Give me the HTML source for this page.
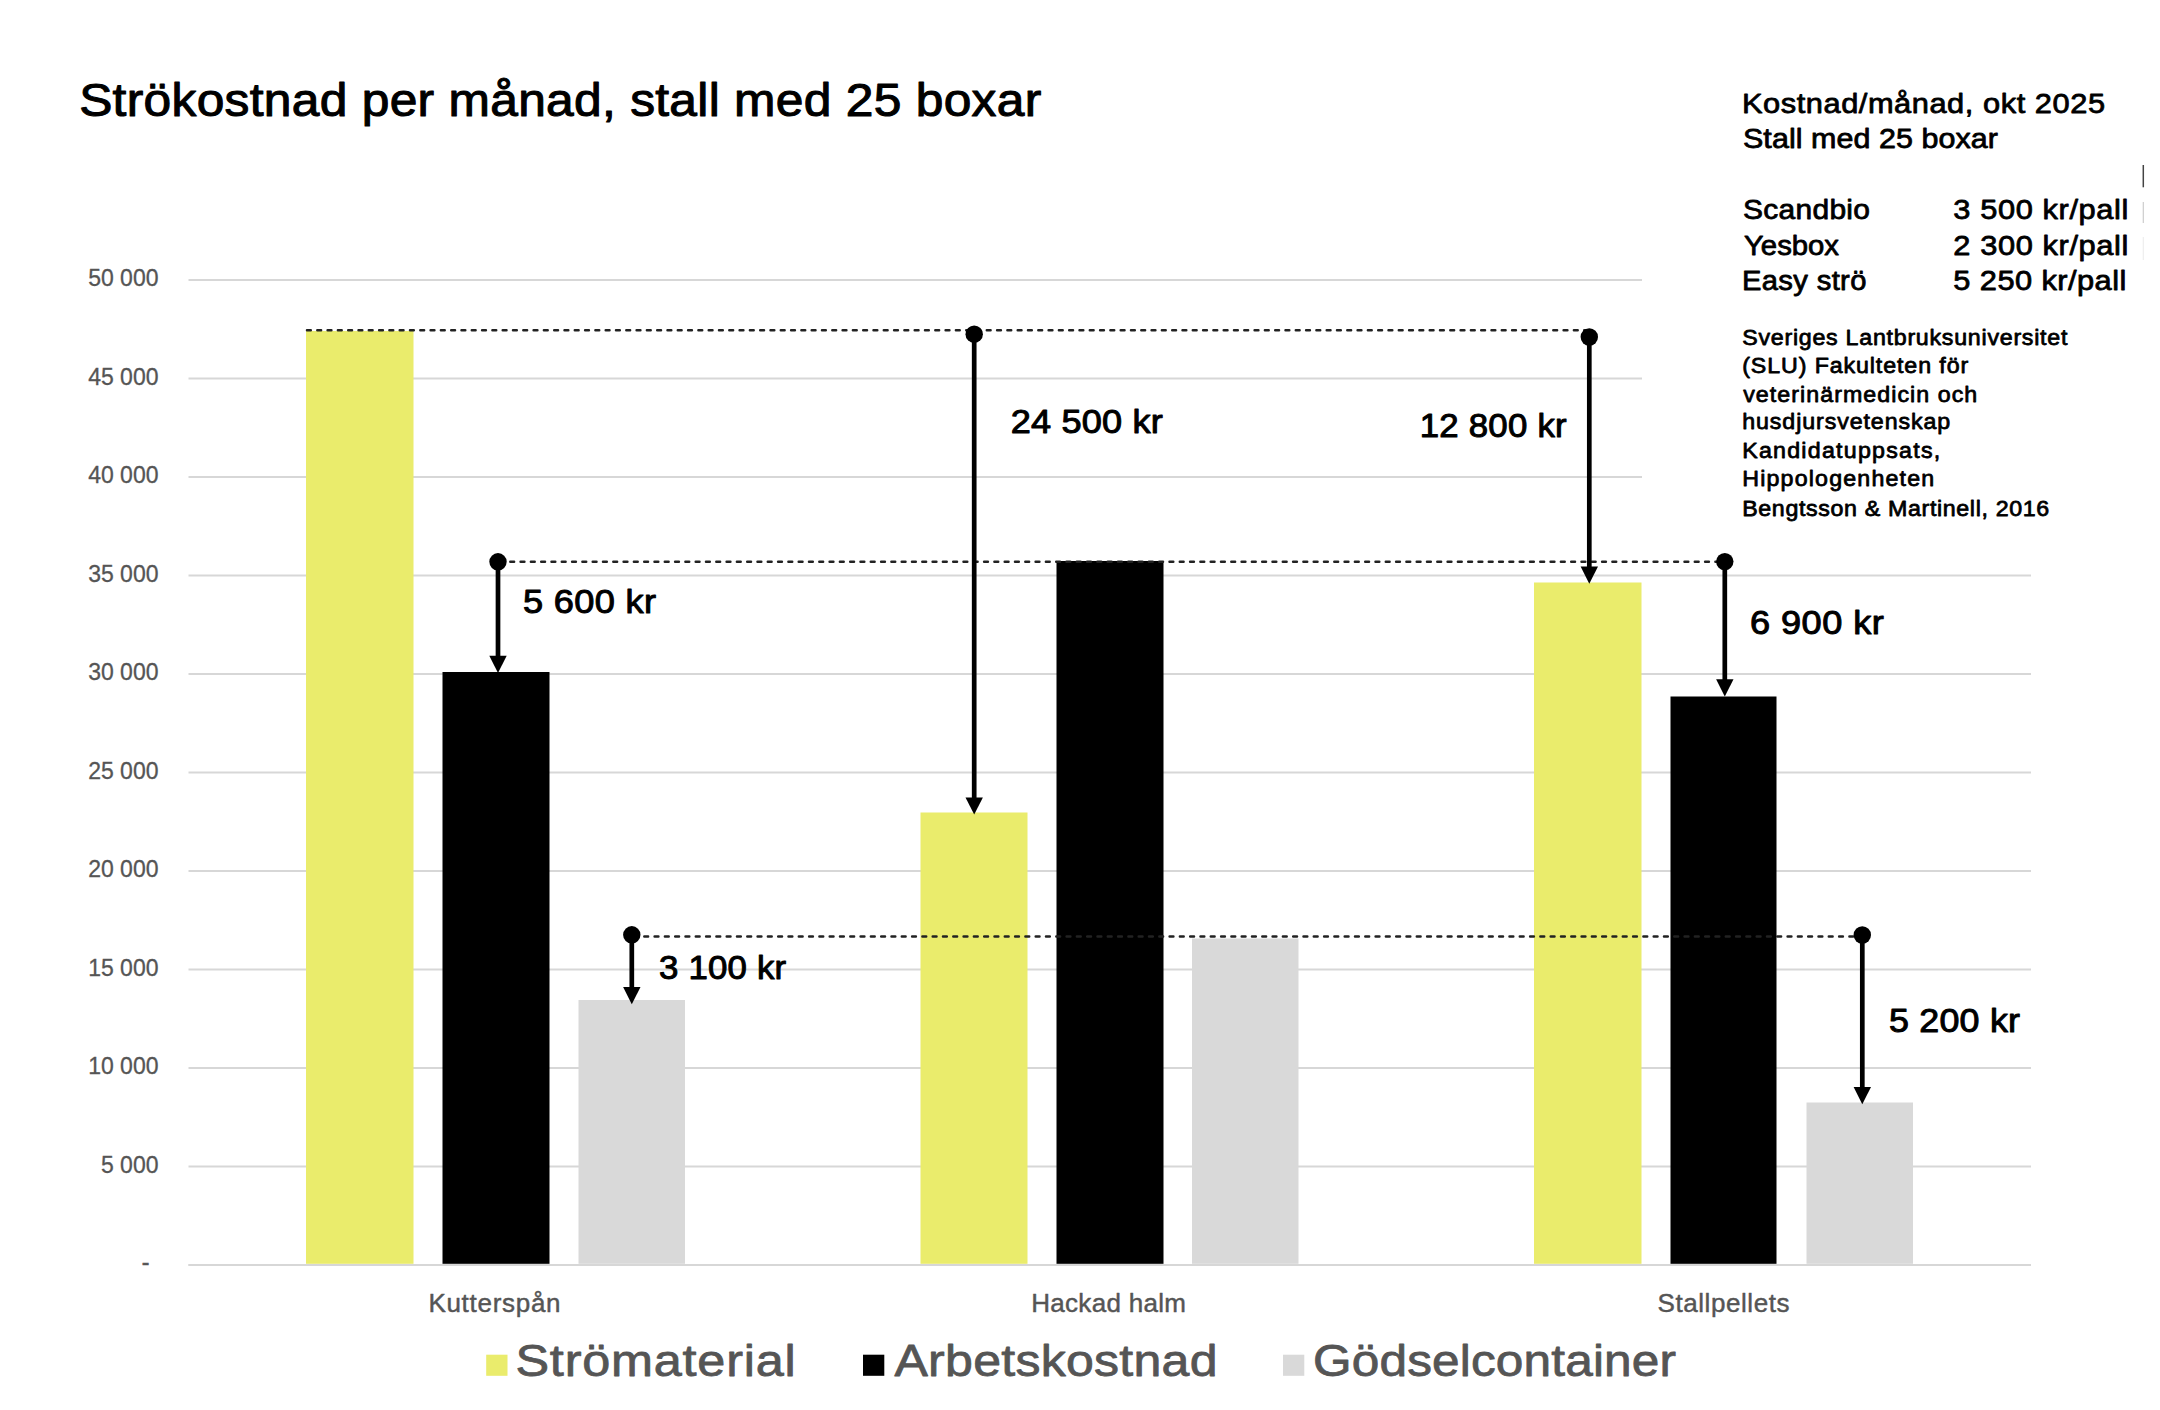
<!DOCTYPE html>
<html lang="sv"><head><meta charset="utf-8"><title>Strökostnad per månad</title>
<style>
html,body{margin:0;padding:0;background:#fff;}
body{width:2160px;height:1410px;overflow:hidden;}
svg{display:block;}
text{font-family:"Liberation Sans",sans-serif;}
.g{fill:#555555;}
</style></head><body>
<svg width="2160" height="1410" viewBox="0 0 2160 1410">
<rect width="2160" height="1410" fill="#fff"/>

<line x1="188.5" x2="2031" y1="1265.0" y2="1265.0" stroke="#d7d7d7" stroke-width="2.2"/>
<line x1="188.5" x2="2031" y1="1166.5" y2="1166.5" stroke="#d7d7d7" stroke-width="2.2"/>
<line x1="188.5" x2="2031" y1="1068.0" y2="1068.0" stroke="#d7d7d7" stroke-width="2.2"/>
<line x1="188.5" x2="2031" y1="969.5" y2="969.5" stroke="#d7d7d7" stroke-width="2.2"/>
<line x1="188.5" x2="2031" y1="871.0" y2="871.0" stroke="#d7d7d7" stroke-width="2.2"/>
<line x1="188.5" x2="2031" y1="772.5" y2="772.5" stroke="#d7d7d7" stroke-width="2.2"/>
<line x1="188.5" x2="2031" y1="674.0" y2="674.0" stroke="#d7d7d7" stroke-width="2.2"/>
<line x1="188.5" x2="2031" y1="575.5" y2="575.5" stroke="#d7d7d7" stroke-width="2.2"/>
<line x1="188.5" x2="1642" y1="477.0" y2="477.0" stroke="#d7d7d7" stroke-width="2.2"/>
<line x1="188.5" x2="1642" y1="378.5" y2="378.5" stroke="#d7d7d7" stroke-width="2.2"/>
<line x1="188.5" x2="1642" y1="280.0" y2="280.0" stroke="#d7d7d7" stroke-width="2.2"/>
<text class="g" x="158.5" y="1172.7" font-size="23" text-anchor="end" stroke="#555555" stroke-width="0.3">5 000</text>
<text class="g" x="158.5" y="1074.2" font-size="23" text-anchor="end" stroke="#555555" stroke-width="0.3">10 000</text>
<text class="g" x="158.5" y="975.7" font-size="23" text-anchor="end" stroke="#555555" stroke-width="0.3">15 000</text>
<text class="g" x="158.5" y="877.2" font-size="23" text-anchor="end" stroke="#555555" stroke-width="0.3">20 000</text>
<text class="g" x="158.5" y="778.7" font-size="23" text-anchor="end" stroke="#555555" stroke-width="0.3">25 000</text>
<text class="g" x="158.5" y="680.2" font-size="23" text-anchor="end" stroke="#555555" stroke-width="0.3">30 000</text>
<text class="g" x="158.5" y="581.7" font-size="23" text-anchor="end" stroke="#555555" stroke-width="0.3">35 000</text>
<text class="g" x="158.5" y="483.2" font-size="23" text-anchor="end" stroke="#555555" stroke-width="0.3">40 000</text>
<text class="g" x="158.5" y="384.7" font-size="23" text-anchor="end" stroke="#555555" stroke-width="0.3">45 000</text>
<text class="g" x="158.5" y="286.2" font-size="23" text-anchor="end" stroke="#555555" stroke-width="0.3">50 000</text>
<text class="g" x="149.3" y="1270.2" font-size="23" text-anchor="end" stroke="#555555" stroke-width="0.5">-</text>
<rect x="306" y="331" width="107.5" height="932.8" fill="#eaec6c"/>
<rect x="442.5" y="672" width="107.0" height="591.8" fill="#000"/>
<rect x="578.5" y="1000" width="106.5" height="263.79999999999995" fill="#d9d9d9"/>
<rect x="920.5" y="812.5" width="107.0" height="451.29999999999995" fill="#eaec6c"/>
<rect x="1056.5" y="561" width="107.0" height="702.8" fill="#000"/>
<rect x="1192" y="938.5" width="106.5" height="325.29999999999995" fill="#d9d9d9"/>
<rect x="1534" y="582.5" width="107.5" height="681.3" fill="#eaec6c"/>
<rect x="1670.5" y="696.5" width="106.0" height="567.3" fill="#000"/>
<rect x="1806.5" y="1102.5" width="106.5" height="161.29999999999995" fill="#d9d9d9"/>
<line x1="188.5" x2="2031" y1="1265.0" y2="1265.0" stroke="#d7d7d7" stroke-width="2.2"/>
<line x1="307" x2="1588" y1="330.3" y2="330.3" stroke="#222" stroke-width="2.5" stroke-dasharray="3.8 6.5" stroke-linecap="round"/>
<line x1="500" x2="1724" y1="561.8" y2="561.8" stroke="#222" stroke-width="2.5" stroke-dasharray="3.8 6.5" stroke-linecap="round"/>
<line x1="634" x2="1861" y1="936.5" y2="936.5" stroke="#222" stroke-width="2.5" stroke-dasharray="3.8 6.5" stroke-linecap="round"/>
<circle cx="498" cy="561.8" r="8.7" fill="#000"/>
<line x1="498" x2="498" y1="561.8" y2="661" stroke="#000" stroke-width="4.7"/>
<path d="M489.3 655.8L506.7 655.8L498 673Z" fill="#000"/>
<circle cx="974.2" cy="334.2" r="8.7" fill="#000"/>
<line x1="974.2" x2="974.2" y1="334.2" y2="802.6" stroke="#000" stroke-width="4.7"/>
<path d="M965.5 797.4L982.9 797.4L974.2 814.6Z" fill="#000"/>
<circle cx="1589.3" cy="337" r="8.7" fill="#000"/>
<line x1="1589.3" x2="1589.3" y1="337" y2="571.8" stroke="#000" stroke-width="4.7"/>
<path d="M1580.6 566.6L1598.0 566.6L1589.3 583.8Z" fill="#000"/>
<circle cx="1724.8" cy="561.6" r="8.7" fill="#000"/>
<line x1="1724.8" x2="1724.8" y1="561.6" y2="684.5" stroke="#000" stroke-width="4.7"/>
<path d="M1716.1 679.3L1733.5 679.3L1724.8 696.5Z" fill="#000"/>
<circle cx="631.8" cy="934.8" r="8.7" fill="#000"/>
<line x1="631.8" x2="631.8" y1="934.8" y2="992.2" stroke="#000" stroke-width="4.7"/>
<path d="M623.1 987.0L640.5 987.0L631.8 1004.2Z" fill="#000"/>
<circle cx="1862.3" cy="935" r="8.7" fill="#000"/>
<line x1="1862.3" x2="1862.3" y1="935" y2="1092.2" stroke="#000" stroke-width="4.7"/>
<path d="M1853.6 1087.0L1871.0 1087.0L1862.3 1104.2Z" fill="#000"/>
<text transform="translate(79.20 115.50) scale(1.0800 1)" font-size="46" fill="#000" stroke="#000" stroke-width="1.05" stroke-linejoin="round" textLength="890.74" lengthAdjust="spacing">Strökostnad per månad, stall med 25 boxar</text>
<text transform="translate(523.00 613.30) scale(1.0800 1)" font-size="33.5" fill="#000" stroke="#000" stroke-width="1.0" stroke-linejoin="round" textLength="123.15" lengthAdjust="spacing">5 600 kr</text>
<text transform="translate(1010.70 433.40) scale(1.0796 1)" font-size="33.5" fill="#000" stroke="#000" stroke-width="1.0" stroke-linejoin="round" textLength="140.98" lengthAdjust="spacing">24 500 kr</text>
<text transform="translate(1419.70 437.00) scale(1.0380 1)" font-size="33.5" fill="#000" stroke="#000" stroke-width="1.0" stroke-linejoin="round" textLength="141.61" lengthAdjust="spacing">12 800 kr</text>
<text transform="translate(1750.00 633.70) scale(1.0800 1)" font-size="33.5" fill="#000" stroke="#000" stroke-width="1.0" stroke-linejoin="round" textLength="123.89" lengthAdjust="spacing">6 900 kr</text>
<text transform="translate(659.00 979.20) scale(1.0393 1)" font-size="33.5" fill="#000" stroke="#000" stroke-width="1.0" stroke-linejoin="round" textLength="122.39" lengthAdjust="spacing">3 100 kr</text>
<text transform="translate(1889.00 1032.20) scale(1.0698 1)" font-size="33.5" fill="#000" stroke="#000" stroke-width="1.0" stroke-linejoin="round" textLength="122.45" lengthAdjust="spacing">5 200 kr</text>
<text transform="translate(1742.00 112.60) scale(1.0800 1)" font-size="28.5" fill="#000" stroke="#000" stroke-width="0.8" stroke-linejoin="round" textLength="336.11" lengthAdjust="spacing">Kostnad/månad, okt 2025</text>
<text transform="translate(1743.00 147.60) scale(1.0688 1)" font-size="28.5" fill="#000" stroke="#000" stroke-width="0.8" stroke-linejoin="round" textLength="238.58" lengthAdjust="spacing">Stall med 25 boxar</text>
<text transform="translate(1743.00 219.30) scale(1.0518 1)" font-size="28.5" fill="#000" stroke="#000" stroke-width="0.8" stroke-linejoin="round" textLength="120.75" lengthAdjust="spacing">Scandbio</text>
<text transform="translate(1953.30 219.30) scale(1.0800 1)" font-size="28.5" fill="#000" stroke="#000" stroke-width="0.8" stroke-linejoin="round" textLength="162.04" lengthAdjust="spacing">3 500 kr/pall</text>
<text transform="translate(1744.00 254.50) scale(1.0275 1)" font-size="28.5" fill="#000" stroke="#000" stroke-width="0.8" stroke-linejoin="round" textLength="92.45" lengthAdjust="spacing">Yesbox</text>
<text transform="translate(1953.30 254.50) scale(1.0800 1)" font-size="28.5" fill="#000" stroke="#000" stroke-width="0.8" stroke-linejoin="round" textLength="162.04" lengthAdjust="spacing">2 300 kr/pall</text>
<text transform="translate(1742.00 289.80) scale(1.0236 1)" font-size="28.5" fill="#000" stroke="#000" stroke-width="0.8" stroke-linejoin="round" textLength="121.53" lengthAdjust="spacing">Easy strö</text>
<text transform="translate(1953.30 289.80) scale(1.0800 1)" font-size="28.5" fill="#000" stroke="#000" stroke-width="0.8" stroke-linejoin="round" textLength="160.19" lengthAdjust="spacing">5 250 kr/pall</text>
<text transform="translate(1742.20 345.30) scale(1.0800 1)" font-size="21.5" fill="#000" stroke="#000" stroke-width="0.75" stroke-linejoin="round" textLength="301.11" lengthAdjust="spacing">Sveriges Lantbruksuniversitet</text>
<text transform="translate(1742.20 373.00) scale(1.0800 1)" font-size="21.5" fill="#000" stroke="#000" stroke-width="0.75" stroke-linejoin="round" textLength="209.26" lengthAdjust="spacing">(SLU) Fakulteten för</text>
<text transform="translate(1743.20 401.60) scale(1.0800 1)" font-size="21.5" fill="#000" stroke="#000" stroke-width="0.75" stroke-linejoin="round" textLength="216.67" lengthAdjust="spacing">veterinärmedicin och</text>
<text transform="translate(1742.20 429.40) scale(1.0800 1)" font-size="21.5" fill="#000" stroke="#000" stroke-width="0.75" stroke-linejoin="round" textLength="192.59" lengthAdjust="spacing">husdjursvetenskap</text>
<text transform="translate(1742.20 457.50) scale(1.0800 1)" font-size="21.5" fill="#000" stroke="#000" stroke-width="0.75" stroke-linejoin="round" textLength="183.33" lengthAdjust="spacing">Kandidatuppsats,</text>
<text transform="translate(1742.20 486.00) scale(1.0800 1)" font-size="21.5" fill="#000" stroke="#000" stroke-width="0.75" stroke-linejoin="round" textLength="177.78" lengthAdjust="spacing">Hippologenheten</text>
<text transform="translate(1742.20 515.60) scale(1.0800 1)" font-size="21.5" fill="#000" stroke="#000" stroke-width="0.75" stroke-linejoin="round" textLength="284.26" lengthAdjust="spacing">Bengtsson &amp; Martinell, 2016</text>
<text transform="translate(428.40 1311.70) scale(1.0000 1)" font-size="26" fill="#555555" stroke="#555555" stroke-width="0.45" stroke-linejoin="round" textLength="132.20" lengthAdjust="spacing">Kutterspån</text>
<text transform="translate(1031.20 1311.70) scale(1.0000 1)" font-size="26" fill="#555555" stroke="#555555" stroke-width="0.45" stroke-linejoin="round" textLength="154.80" lengthAdjust="spacing">Hackad halm</text>
<text transform="translate(1657.50 1311.70) scale(1.0000 1)" font-size="26" fill="#555555" stroke="#555555" stroke-width="0.45" stroke-linejoin="round" textLength="132.00" lengthAdjust="spacing">Stallpellets</text>
<text transform="translate(515.50 1376.30) scale(1.1200 1)" font-size="45" fill="#555555" stroke="#555555" stroke-width="0.8" stroke-linejoin="round" textLength="250.18" lengthAdjust="spacing">Strömaterial</text>
<text transform="translate(894.50 1376.30) scale(1.1124 1)" font-size="45" fill="#555555" stroke="#555555" stroke-width="0.8" stroke-linejoin="round" textLength="290.37" lengthAdjust="spacing">Arbetskostnad</text>
<text transform="translate(1313.00 1376.30) scale(1.1016 1)" font-size="45" fill="#555555" stroke="#555555" stroke-width="0.8" stroke-linejoin="round" textLength="329.52" lengthAdjust="spacing">Gödselcontainer</text>
<line x1="2143.3" x2="2143.3" y1="165" y2="187.3" stroke="#444" stroke-width="1.5"/>
<line x1="2143.3" x2="2143.3" y1="202" y2="223" stroke="#ccc" stroke-width="1.2"/>
<line x1="2143.3" x2="2143.3" y1="237" y2="260" stroke="#eee" stroke-width="1.2"/>
<rect x="486.2" y="1354.7" width="21.3" height="21.1" fill="#eaec6c"/>
<rect x="863" y="1354.7" width="21.3" height="21.1" fill="#000"/>
<rect x="1283" y="1354.7" width="21.3" height="21.1" fill="#d9d9d9"/>
</svg></body></html>
